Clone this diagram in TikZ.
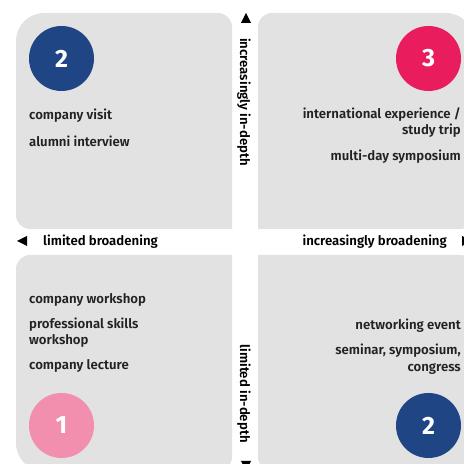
\documentclass[tikz,border=0pt]{standalone}
\usepackage{fontspec}
\setmainfont{Fira Sans}[BoldFont={* SemiBold}]
\newfontfamily\digitfont{Fira Sans}[UprightFont={* Bold}]
\definecolor{boxgray}{RGB}{226,226,226}
\definecolor{navy}{RGB}{31,69,133}
\definecolor{crimson}{RGB}{233,28,94}
\definecolor{rosepink}{RGB}{243,143,174}
\definecolor{ink}{RGB}{34,34,34}
\tikzset{
  quad/.style={fill=boxgray},
  badge/.style={circle, minimum size=65pt, inner sep=0pt, text=white,
    font=\digitfont\fontsize{25}{25}\selectfont},
  item/.style={inner sep=0pt, text=ink, font=\bfseries\fontsize{13.2}{13.2}\selectfont},
  axislabel/.style={inner sep=0pt, text=black, font=\bfseries\fontsize{13.2}{13.2}\selectfont},
  tip/.style={fill=black}
}
\begin{document}
\begin{tikzpicture}[x=1pt,y=1pt]
\useasboundingbox (0,0) rectangle (464,464);
\clip (0,0) rectangle (464,464);

% four quadrant panels, each with one large outer corner and a square inner corner
\fill[quad] (16,249) -- (16,423) arc[start angle=180,end angle=90,radius=28]
  -- (218,451) arc[start angle=90,end angle=0,radius=14]
  -- (232,235) -- (30,235) arc[start angle=270,end angle=180,radius=14] -- cycle;
\fill[quad] (258,235) -- (258,437) arc[start angle=180,end angle=90,radius=14]
  -- (446,451) arc[start angle=90,end angle=0,radius=28]
  -- (474,249) arc[start angle=0,end angle=-90,radius=14] -- cycle;
\fill[quad] (16,21) -- (16,195) arc[start angle=180,end angle=90,radius=14]
  -- (232,209) -- (232,7) arc[start angle=0,end angle=-90,radius=14]
  -- (44,-7) arc[start angle=270,end angle=180,radius=28] -- cycle;
\fill[quad] (258,209) -- (460,209) arc[start angle=90,end angle=0,radius=14]
  -- (474,21) arc[start angle=0,end angle=-90,radius=28]
  -- (272,-7) arc[start angle=270,end angle=180,radius=14] -- cycle;

% axis arrow heads
\fill[tip] (246,451) -- (241,441) -- (251,441) -- cycle;
\fill[tip] (246,-7) -- (241,3) -- (251,3) -- cycle;
\fill[tip] (17,223) -- (27,228) -- (27,218) -- cycle;
\fill[tip] (472,223) -- (462,228) -- (462,218) -- cycle;

% axis labels
\node[axislabel, anchor=base west] (lb) at (43,218.3) {limited broadening};
\node[axislabel, anchor=base east] (ib) at (447,218.3) {increasingly broadening};
\node[axislabel, anchor=base west, rotate=-90] (id) at (240,426) {increasingly in-depth};
\node[axislabel, anchor=base east, rotate=-90] (ld) at (240,21) {limited in-depth};

% level badges
\node[badge, fill=navy] (b2top) at (61.5,405.5) {2};
\node[badge, fill=crimson] (b3) at (428.5,405.5) {3};
\node[badge, fill=rosepink] (b1) at (61.5,38.5) {1};
\node[badge, fill=navy] (b2bot) at (428.5,38.5) {2};

% activities, upper left
\node[item, anchor=base west] (t1) at (29,344.5) {company visit};
\node[item, anchor=base west] (t2) at (29,317.3) {alumni interview};
% activities, upper right
\node[item, anchor=base east] (t3) at (461,345) {international experience /};
\node[item, anchor=base east] (t4) at (461,329) {study trip};
\node[item, anchor=base east] (t5) at (461,303) {multi-day symposium};
% activities, lower left
\node[item, anchor=base west] (t6) at (29,160.7) {company workshop};
\node[item, anchor=base west] (t7) at (29,135.7) {professional skills};
\node[item, anchor=base west] (t8) at (29,119) {workshop};
\node[item, anchor=base west] (t9) at (29,94.7) {company lecture};
% activities, lower right
\node[item, anchor=base east] (t10) at (461,134) {networking event};
\node[item, anchor=base east] (t11) at (461,109) {seminar, symposium,};
\node[item, anchor=base east] (t12) at (461,92.3) {congress};
\end{tikzpicture}
\end{document}
